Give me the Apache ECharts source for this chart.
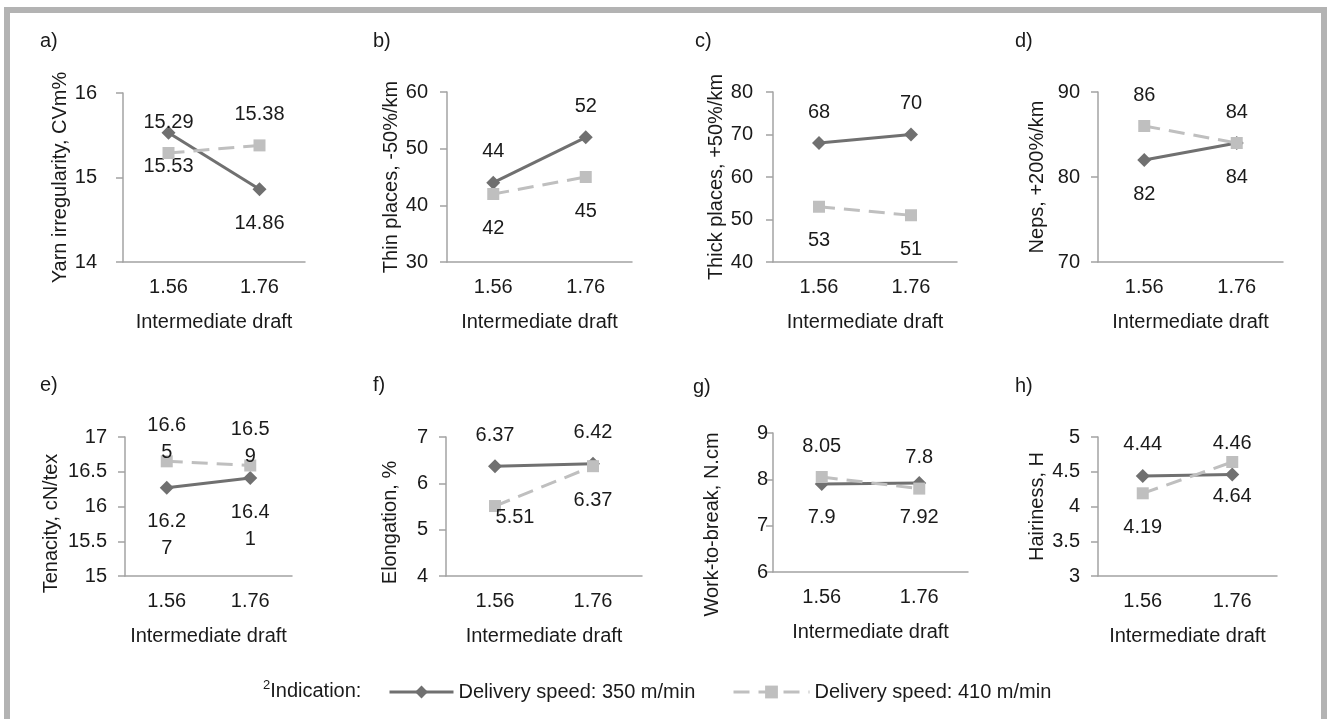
<!DOCTYPE html>
<html><head><meta charset="utf-8">
<script src="https://cdn.jsdelivr.net/npm/echarts@6/dist/echarts.min.js"></script>
<style>html,body{margin:0;padding:0;background:#fff}#chart{width:1328px;height:719px}</style>
</head><body><div id="chart"></div>
<script>
// ---------- DATA ----------
const categories = ['1.56', '1.76'];
const seriesNames = ['Delivery speed: 350 m/min', 'Delivery speed: 410 m/min'];
const panelLetters = ['a)', 'b)', 'c)', 'd)', 'e)', 'f)', 'g)', 'h)'];
const yAxisNames = ['Yarn irregularity, CVm%', 'Thin places, -50%/km', 'Thick places, +50%/km', 'Neps, +200%/km',
  'Tenacity, cN/tex', 'Elongation, %', 'Work-to-break, N.cm', 'Hairiness, H'];
const xAxisName = 'Intermediate draft';
const legendPrefix = 'Indication:';

const yarnIrregularity350 = [15.53, 14.86];
const yarnIrregularity410 = [15.29, 15.38];
const thinPlaces350 = [44, 52];
const thinPlaces410 = [42, 45];
const thickPlaces350 = [68, 70];
const thickPlaces410 = [53, 51];
const neps350 = [82, 84];
const neps410 = [86, 84];
const tenacity350 = [16.27, 16.41];
const tenacity410 = [16.65, 16.59];
const elongation350 = [6.37, 6.42];
const elongation410 = [5.51, 6.37];
const workToBreak350 = [7.9, 7.92];
const workToBreak410 = [8.05, 7.8];
const hairiness350 = [4.44, 4.46];
const hairiness410 = [4.19, 4.64];

const yMin = [14, 30, 40, 70, 15, 4, 6, 3];
const yMax = [16, 60, 80, 90, 17, 7, 9, 5];
const yInterval = [1, 10, 10, 10, 0.5, 1, 1, 0.5];

const values350 = [yarnIrregularity350, thinPlaces350, thickPlaces350, neps350, tenacity350, elongation350, workToBreak350, hairiness350];
const values410 = [yarnIrregularity410, thinPlaces410, thickPlaces410, neps410, tenacity410, elongation410, workToBreak410, hairiness410];

// ---------- LAYOUT / STYLE ----------
const FONT = "'Liberation Sans', Arial, sans-serif";
const TXT = '#1a1a1a';
const AXIS = '#a3a3a3';
const C350 = '#707070';
const C410 = '#bfbfbf';
const grids = [
  {left: 123, top: 93, width: 182, height: 169},
  {left: 447, top: 92, width: 185, height: 170},
  {left: 773, top: 92, width: 184, height: 170},
  {left: 1098, top: 92, width: 185, height: 170},
  {left: 125, top: 437, width: 167, height: 139},
  {left: 446, top: 437, width: 196, height: 139},
  {left: 773, top: 433, width: 195, height: 139},
  {left: 1098, top: 437, width: 179, height: 139}
];
const yLabelMargin = [26, 19, 20, 18, 18, 18, 5, 18];
const yNameGap = [50, 44, 47, 51, 64, 46, 51, 51];
const yNameShiftDown = [0, 0, 0, 0, 17, 16, 22, 0];
const side350 = ['bottom', 'top', 'top', 'bottom', 'bottom', 'top', 'bottom', 'top'];
const letterPos = [[40, 41], [373, 41], [695, 41], [1015, 41], [40, 385], [373, 385], [693, 387], [1015, 386]];
const labelOffsets = {'5-1-0': [20, -23]};

const option = {
  animation: false,
  backgroundColor: '#fff',
  textStyle: {fontFamily: FONT},
  grid: grids.map(g => Object.assign({containLabel: false}, g)),
  xAxis: grids.map((g, i) => ({
    type: 'category', gridIndex: i, data: categories, boundaryGap: true,
    axisLine: {lineStyle: {color: AXIS, width: 1.5}},
    axisTick: {show: false},
    axisLabel: {fontSize: 20, color: TXT, fontFamily: FONT, margin: 15},
    name: xAxisName, nameLocation: 'middle', nameGap: 50,
    nameTextStyle: {fontSize: 20, color: TXT, fontFamily: FONT}
  })),
  yAxis: grids.map((g, i) => ({
    type: 'value', gridIndex: i, min: yMin[i], max: yMax[i], interval: yInterval[i],
    splitLine: {show: false},
    axisLine: {show: true, lineStyle: {color: AXIS, width: 1.5}},
    axisTick: {show: true, length: 7, lineStyle: {color: AXIS, width: 1.5}},
    axisLabel: {fontSize: 20, color: TXT, fontFamily: FONT, margin: yLabelMargin[i]},
    name: yAxisNames[i], nameLocation: 'middle', nameRotate: 90, nameGap: yNameGap[i],
    nameTextStyle: {fontSize: 20, color: TXT, fontFamily: FONT,
      padding: [0, yNameShiftDown[i] * 2, 0, 0]}
  })),
  legend: [
    {data: [seriesNames[0]], left: 383, top: 677, itemWidth: 64, itemHeight: 16,
      lineStyle: {width: 3}, textStyle: {fontSize: 20, color: TXT, fontFamily: FONT}},
    {data: [seriesNames[1]], left: 727, top: 677, itemWidth: 76, itemHeight: 16,
      lineStyle: {width: 3}, textStyle: {fontSize: 20, color: TXT, fontFamily: FONT}}
  ],
  graphic: [
    {type: 'rect', silent: true, z: -10, shape: {x: 7, y: 10, width: 1317, height: 800},
      style: {fill: 'none', stroke: '#b3b3b3', lineWidth: 6}},
    {type: 'text', x: 263, y: 691, style: {
      text: '{s|2}{t|' + legendPrefix + '}', verticalAlign: 'middle',
      rich: {s: {fontSize: 13, fontFamily: FONT, fill: TXT, verticalAlign: 'top', lineHeight: 24},
             t: {fontSize: 20, fontFamily: FONT, fill: TXT, lineHeight: 24}}
    }}
  ].concat(panelLetters.map((t, i) => ({
    type: 'text', x: letterPos[i][0], y: letterPos[i][1],
    style: {text: t, fontSize: 20, fontFamily: FONT, fill: TXT, verticalAlign: 'middle'}
  }))),
  series: []
};

function labelFor(panel, sIdx, side) {
  const halfSym = sIdx === 0 ? 7 : 6;
  let dist = side === 'top' ? 31 - halfSym - 12 : 34 - halfSym - 12;
  const lab = {show: true, position: side, distance: dist, fontSize: 20, color: TXT,
    fontFamily: FONT, lineHeight: 24};
  if (panel === 4) {
    lab.width = 44; lab.overflow = 'breakAll'; lab.lineHeight = 27;
    lab.distance = side === 'top' ? -10.5 : 13.5;
  }
  return lab;
}
function dataFor(panel, sIdx, vals) {
  return vals.map((v, j) => {
    const off = labelOffsets[panel + '-' + sIdx + '-' + j];
    return off ? {value: v, label: {offset: off}} : v;
  });
}

for (let i = 0; i < 8; i++) {
  const s350 = side350[i];
  const s410 = s350 === 'top' ? 'bottom' : 'top';
  option.series.push({
    name: seriesNames[0], type: 'line', xAxisIndex: i, yAxisIndex: i,
    data: dataFor(i, 0, values350[i]), symbol: 'diamond', symbolSize: 14,
    lineStyle: {color: C350, width: 3}, itemStyle: {color: C350},
    label: labelFor(i, 0, s350), z: 2
  });
  option.series.push({
    name: seriesNames[1], type: 'line', xAxisIndex: i, yAxisIndex: i,
    data: dataFor(i, 1, values410[i]), symbol: 'rect', symbolSize: 12,
    lineStyle: {color: C410, width: 3, type: [16, 9]}, itemStyle: {color: C410},
    label: labelFor(i, 1, s410), z: 3
  });
}

const chart = echarts.init(document.getElementById('chart'), null, {renderer: 'canvas'});
chart.setOption(option);
</script></body></html>
